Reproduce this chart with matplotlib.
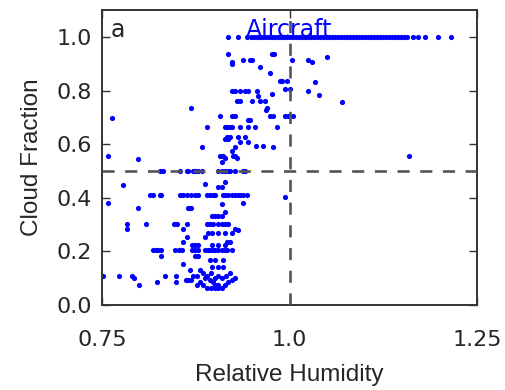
import matplotlib
matplotlib.use("Agg")
import matplotlib.pyplot as plt
import numpy as np

# Cloud fraction levels and the relative humidity values observed at each level
cf_levels = [
    1.000, 0.936, 0.925, 0.914, 0.906, 0.899, 0.888, 0.865, 0.835, 0.831,
    0.805, 0.800, 0.787, 0.783, 0.779, 0.760, 0.757, 0.734, 0.727, 0.704,
    0.697, 0.689, 0.663, 0.625, 0.618, 0.607, 0.592, 0.588, 0.573, 0.554,
    0.547, 0.543, 0.532, 0.500, 0.460, 0.453, 0.446, 0.442, 0.412, 0.404,
    0.382, 0.375, 0.363, 0.348, 0.333, 0.303, 0.285, 0.281, 0.270, 0.255,
    0.236, 0.225, 0.206, 0.184, 0.169, 0.154, 0.142, 0.131, 0.120, 0.109,
    0.101, 0.094, 0.086, 0.075, 0.065,
]

rh_at_level = [
    [0.918, 0.931, 0.943, 0.948, 0.952, 0.956, 0.961, 0.964, 0.969, 0.972,
     0.976, 0.981, 0.984, 0.988, 0.992, 0.997, 1.001, 1.004, 1.008, 1.013,
     1.016, 1.020, 1.025, 1.028, 1.032, 1.036, 1.041, 1.044, 1.048, 1.053,
     1.056, 1.060, 1.064, 1.069, 1.072, 1.076, 1.080, 1.085, 1.088, 1.092,
     1.097, 1.100, 1.104, 1.109, 1.112, 1.116, 1.121, 1.124, 1.128, 1.132,
     1.137, 1.140, 1.144, 1.149, 1.152, 1.156, 1.165, 1.171, 1.181, 1.198,
     1.215],
    [0.918, 0.977, 0.979],
    [1.050],
    [0.938, 0.947, 0.950, 1.003, 1.025],
    [0.923, 1.030],
    [0.923],
    [0.961],
    [0.974],
    [0.987, 0.990, 0.997],
    [1.034],
    [0.994, 1.000],
    [0.923, 0.927, 0.934, 0.941, 0.945, 0.957, 1.025],
    [0.977],
    [1.039],
    [0.958],
    [0.930, 0.934, 0.950, 0.961, 0.967],
    [1.070],
    [0.869, 0.970],
    [0.968],
    [0.907, 0.923, 0.927, 0.974, 0.978, 0.994, 0.998, 1.005],
    [0.763],
    [0.945, 0.947],
    [0.890, 0.914, 0.917, 0.921, 0.923, 0.934, 0.945, 0.954, 0.983],
    [0.917, 0.921, 0.931, 0.941],
    [0.914, 0.918],
    [0.934, 0.945],
    [0.955, 0.965],
    [0.883, 0.927, 0.978],
    [0.923],
    [0.758, 0.907, 0.911, 0.925, 0.927, 1.159],
    [0.914, 0.930],
    [0.798],
    [0.910],
    [0.827, 0.831, 0.854, 0.863, 0.865, 0.871, 0.874, 0.878, 0.883, 0.905,
     0.910, 0.914, 0.918, 0.921, 0.927, 0.938, 0.941],
    [0.914],
    [0.887],
    [0.778],
    [0.905, 0.910],
    [0.814, 0.818, 0.827, 0.829, 0.854, 0.858, 0.863, 0.869, 0.874, 0.878,
     0.890, 0.894, 0.898, 0.901, 0.911, 0.914, 0.918, 0.923, 0.927, 0.931,
     0.934, 0.938, 0.943],
    [0.994],
    [0.758, 0.938],
    [0.910],
    [0.798, 0.865, 0.867, 0.869],
    [0.914],
    [0.897, 0.901, 0.905, 0.910],
    [0.783, 0.809, 0.846, 0.850, 0.863, 0.890, 0.894, 0.898, 0.905, 0.910,
     0.914, 0.918],
    [0.783, 0.858, 0.927],
    [0.931],
    [0.891, 0.897, 0.905, 0.914, 0.923],
    [0.863, 0.887],
    [0.858, 0.917, 0.921],
    [0.870, 0.874, 0.878, 0.897, 0.905, 0.914],
    [0.818, 0.822, 0.825, 0.829, 0.847, 0.852, 0.857, 0.870, 0.874, 0.878,
     0.887, 0.891, 0.894, 0.898, 0.901, 0.905, 0.910, 0.914, 0.917, 0.923],
    [0.829, 0.874, 0.878],
    [0.894, 0.901, 0.911],
    [0.858],
    [0.897, 0.905, 0.911],
    [0.867, 0.881],
    [0.885, 0.895, 0.920],
    [0.751, 0.773, 0.790, 0.834, 0.849, 0.871, 0.877, 0.890, 0.905, 0.915],
    [0.793, 0.887, 0.900, 0.910, 0.927],
    [0.862, 0.865, 0.869, 0.894, 0.923],
    [0.823, 0.849, 0.880, 0.898, 0.918],
    [0.799, 0.877, 0.885, 0.901, 0.905, 0.914],
    [0.890, 0.895, 0.900, 0.905, 0.910],
]

x_ticks = [0.75, 1.0, 1.25]
x_tick_labels = ["0.75", "1.0", "1.25"]
y_ticks = [0.0, 0.2, 0.4, 0.6, 0.8, 1.0]

rh = np.concatenate([np.array(xs, dtype=float) for xs in rh_at_level])
cf = np.concatenate([np.full(len(xs), y) for xs, y in zip(rh_at_level, cf_levels)])

text_color = "#262626"
frame_color = "#333333"

fig = plt.figure(figsize=(5.06, 3.90), dpi=100)
ax = fig.add_axes([0.2016, 0.218, 0.7411, 0.756])

ax.scatter(rh, cf, s=14, c="#0000ff", marker="o", linewidths=0, zorder=2)

ax.axhline(0.5, color="#555555", lw=1.9, ls=(0, (4.6, 4.0)), zorder=3)
ax.axvline(1.0, color="#555555", lw=1.9, ls=(0, (4.6, 4.0)), zorder=3)

ax.set_xlim(0.75, 1.25)
ax.set_ylim(0.0, 1.1)
ax.set_xticks(x_ticks)
ax.set_xticklabels(x_tick_labels)
ax.set_yticks(y_ticks)
ax.set_yticklabels([f"{v:.1f}" for v in y_ticks])

ax.tick_params(direction="in", length=6, width=1, color=frame_color,
               top=True, right=True, labelsize=16, labelcolor=text_color)
ax.tick_params(axis="x", pad=18)
ax.tick_params(axis="y", pad=7)
for sp in ax.spines.values():
    sp.set_color(frame_color)
    sp.set_linewidth(1.4)

ax.set_xlabel("Relative Humidity", family="Liberation Sans", fontsize=17.5,
              color=text_color, labelpad=10)
ax.set_ylabel("Cloud Fraction", family="Liberation Sans", fontsize=17.5,
              color=text_color, labelpad=10)

ax.text(1.0, 1.0, "Aircraft", color="#0000ff", fontsize=17,
        ha="center", va="baseline", zorder=4)
ax.text(0.762, 1.0, "a", color=text_color, fontsize=17,
        ha="left", va="baseline", zorder=4)

fig.savefig("out.png", dpi=100)
